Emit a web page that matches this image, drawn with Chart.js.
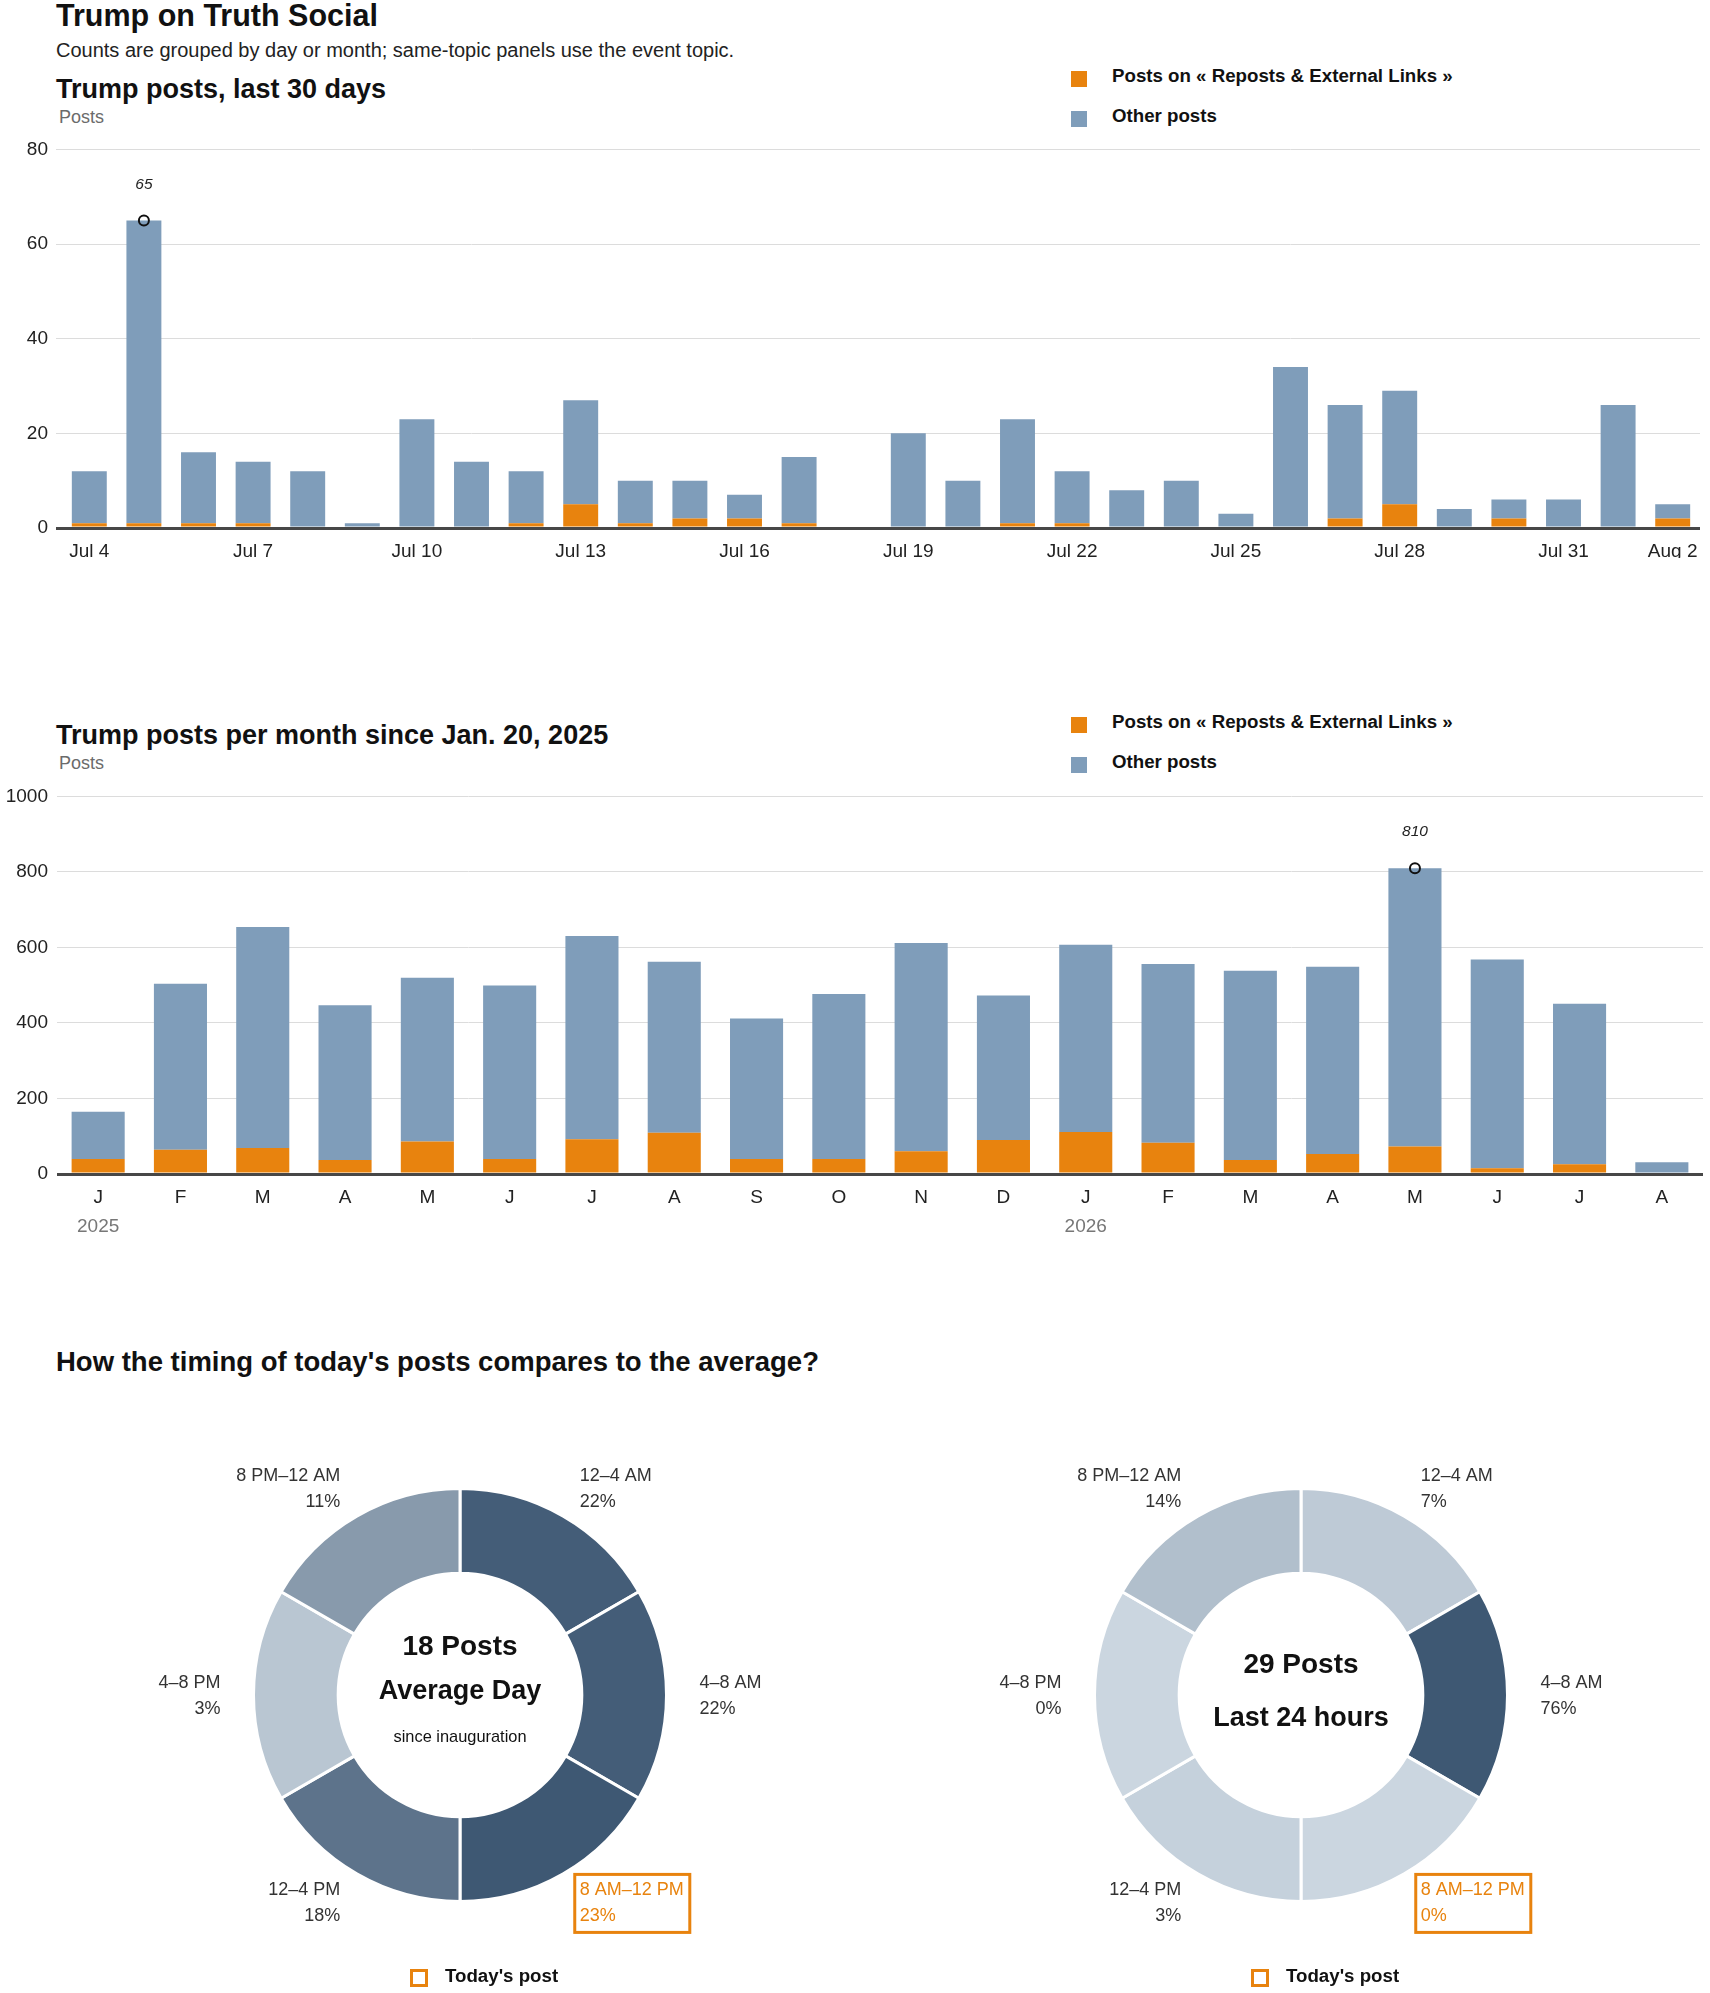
<!DOCTYPE html>
<html>
<head>
<meta charset="utf-8">
<script src="https://cdn.jsdelivr.net/npm/chart.js@4.4.1/dist/chart.umd.min.js"></script>
<style>
  html, body { margin: 0; padding: 0; background: #fff; }
  body { width: 1710px; height: 1993px; position: relative; overflow: hidden;
         font-family: 'Liberation Sans', Arial, sans-serif; color: #111; }
  .abs { position: absolute; line-height: 1; white-space: nowrap; }
  .h1 { font-size: 30.5px; font-weight: bold; }
  .h2 { font-size: 27px; font-weight: bold; }
  .sub { font-size: 20px; color: #222; }
  .axt { font-size: 18px; color: #6b6b6b; }
  .sw { position: absolute; width: 16px; height: 16px; }
  .lg { font-size: 18.7px; font-weight: bold; }
  .today { position: absolute; width: 18px; height: 18px; border: 3px solid #e8830e; box-sizing: border-box; }
  canvas { position: absolute; }
</style>
</head>
<body>
<div class="abs h1" style="left:56px;top:0px">Trump on Truth Social</div>
<div class="abs sub" style="left:56px;top:40px">Counts are grouped by day or month; same-topic panels use the event topic.</div>

<div class="abs h2" style="left:56px;top:75.5px">Trump posts, last 30 days</div>
<div class="abs axt" style="left:59px;top:108px">Posts</div>
<div class="sw" style="left:1071px;top:71px;background:#e8830e"></div>
<div class="abs lg" style="left:1112px;top:67px">Posts on « Reposts &amp; External Links »</div>
<div class="sw" style="left:1071px;top:111px;background:#7f9dba"></div>
<div class="abs lg" style="left:1112px;top:107px">Other posts</div>
<canvas id="daily" width="1710" height="430" style="left:0;top:130px"></canvas>

<div class="abs h2" style="left:56px;top:721.5px">Trump posts per month since Jan. 20, 2025</div>
<div class="abs axt" style="left:59px;top:754px">Posts</div>
<div class="sw" style="left:1071px;top:717px;background:#e8830e"></div>
<div class="abs lg" style="left:1112px;top:713px">Posts on « Reposts &amp; External Links »</div>
<div class="sw" style="left:1071px;top:757px;background:#7f9dba"></div>
<div class="abs lg" style="left:1112px;top:753px">Other posts</div>
<canvas id="monthly" width="1710" height="480" style="left:0;top:776px"></canvas>

<div class="abs h2" style="left:56px;top:1348px;font-size:27.5px">How the timing of today's posts compares to the average?</div>
<canvas id="avgDay" width="800" height="550" style="left:60px;top:1420px"></canvas>
<canvas id="lastDay" width="800" height="550" style="left:901px;top:1420px"></canvas>
<div class="today" style="left:410px;top:1969px"></div>
<div class="abs lg" style="left:445px;top:1967px">Today's post</div>
<div class="today" style="left:1251px;top:1969px"></div>
<div class="abs lg" style="left:1286px;top:1967px">Today's post</div>

<script>
// daily panel, Jul 4 - Aug 2
const days = ['Jul 4','Jul 5','Jul 6','Jul 7','Jul 8','Jul 9','Jul 10','Jul 11','Jul 12','Jul 13',
  'Jul 14','Jul 15','Jul 16','Jul 17','Jul 18','Jul 19','Jul 20','Jul 21','Jul 22','Jul 23',
  'Jul 24','Jul 25','Jul 26','Jul 27','Jul 28','Jul 29','Jul 30','Jul 31','Aug 1','Aug 2'];
const dailyReposts = [1,1,1,1,0,0,0,0,1,5,1,2,2,1,0,0,0,1,1,0,0,0,0,2,5,0,2,0,0,2];
const dailyOther = [11,64,15,13,12,1,23,14,11,22,9,8,5,14,0,20,10,22,11,8,10,3,34,24,24,4,4,6,26,3];

// monthly panel, Jan 2025 - Aug 2026
const months = ['J','F','M','A','M','J','J','A','S','O','N','D','J','F','M','A','M','J','J','A'];
const monthlyReposts = [40,64,69,37,86,40,92,109,40,40,60,90,111,83,37,53,73,15,26,0];
const monthlyOther = [125,440,585,410,434,459,538,453,372,437,552,383,496,473,501,496,737,553,425,31];
const yearStarts = [0, 12];
const yearNames = ['2025', '2026'];

// time of day panels
const timeSlots = ['12–4 AM','4–8 AM','8 AM–12 PM','12–4 PM','4–8 PM','8 PM–12 AM'];
const slotHours = [4,4,4,4,4,4];
const averageShare = [22,22,23,18,3,11];
const last24Share = [7,76,0,3,0,14];
const todaySlot = 2;

const ORANGE = '#e8830e';
const BLUE = '#7f9dba';
const LIGHT = [203, 214, 224];
const DARK = [62, 88, 115];

Chart.defaults.font.family = "'Liberation Sans', Arial, sans-serif";
Chart.defaults.color = '#222';

function barChart(id, labels, reposts, other, o) {
  const totals = reposts.map((r, i) => r + other[i]);
  const peak = totals.indexOf(Math.max(...totals));
  const marker = totals.map((t, i) => i === peak ? t : null);

  const peakLabel = {
    id: 'peakLabel',
    afterDatasetsDraw(chart) {
      const pt = chart.getDatasetMeta(2).data[peak];
      const c = chart.ctx;
      c.save();
      c.font = "italic 15.5px 'Liberation Sans Narrow', 'Liberation Sans', sans-serif";
      c.fillStyle = '#222';
      c.textAlign = 'center';
      c.textBaseline = 'middle';
      c.fillText(String(totals[peak]), pt.x, pt.y - 36);
      c.restore();
    }
  };

  const years = {
    id: 'years',
    afterDraw(chart) {
      if (!o.years) return;
      const c = chart.ctx, x = chart.scales.x;
      c.save();
      c.font = "19px 'Liberation Sans', sans-serif";
      c.fillStyle = '#777';
      c.textAlign = 'center';
      c.textBaseline = 'middle';
      yearStarts.forEach((idx, k) => {
        c.fillText(yearNames[k], x.getPixelForValue(idx), chart.chartArea.bottom + 53);
      });
      c.restore();
    }
  };

  return new Chart(document.getElementById(id), {
    type: 'bar',
    data: {
      labels: labels,
      datasets: [
        { label: 'Posts on « Reposts & External Links »', data: reposts, backgroundColor: ORANGE, order: 1 },
        { label: 'Other posts', data: other, backgroundColor: BLUE, order: 1 },
        { type: 'line', stack: 'peak', data: marker, showLine: false, order: 0,
          pointRadius: 5, pointBorderWidth: 2, pointBorderColor: '#111',
          pointBackgroundColor: 'rgba(0,0,0,0)' }
      ]
    },
    options: {
      responsive: false,
      animation: false,
      events: [],
      layout: { padding: { top: 17, right: o.padRight, bottom: o.padBottom, left: 0 } },
      datasets: { bar: { barPercentage: o.barPct, categoryPercentage: 1 } },
      plugins: { legend: { display: false }, tooltip: { enabled: false } },
      scales: {
        x: {
          stacked: true,
          grid: { display: false },
          border: { display: false },
          ticks: {
            autoSkip: false, maxRotation: 0, padding: 4,
            font: { size: 19 }, color: '#222',
            callback: o.tickCb
          },
          afterFit: s => { s.height = 30; }
        },
        y: {
          stacked: true,
          min: 0, max: o.max,
          border: { display: false },
          grid: {
            drawTicks: o.tickLen > 0,
            tickLength: o.tickLen,
            color: c => c.tick && c.tick.value === 0 ? '#474747' : '#dcdcdc',
            lineWidth: c => c.tick && c.tick.value === 0 ? 3 : 1
          },
          ticks: { stepSize: o.step, padding: o.tickPad, font: { size: 19 }, color: '#222',
                   callback: v => String(v) },
          afterFit: s => { s.width = o.yWidth; }
        }
      }
    },
    plugins: [peakLabel, years]
  });
}

barChart('daily', days, dailyReposts, dailyOther, {
  max: 80, step: 20, yWidth: 62, tickLen: 6, tickPad: 8, padRight: 10, padBottom: 2,
  barPct: 0.64,
  tickCb: function (v, i) { return (i % 3 === 0 || i === days.length - 1) ? this.getLabelForValue(v) : ''; }
});

barChart('monthly', months, monthlyReposts, monthlyOther, {
  max: 1000, step: 200, yWidth: 57, tickLen: 0, tickPad: 9, padRight: 7, padBottom: 52,
  barPct: 0.645, years: true,
  tickCb: function (v) { return this.getLabelForValue(v); }
});

function shade(share, maxShare) {
  const t = maxShare > 0 ? share / maxShare : 0;
  const ch = LIGHT.map((l, k) => Math.round(l + (DARK[k] - l) * t));
  return 'rgb(' + ch.join(',') + ')';
}

function donut(id, shares, centerLines) {
  const maxShare = Math.max(...shares);

  const labelsPlugin = {
    id: 'slotLabels',
    afterDatasetsDraw(chart) {
      const c = chart.ctx;
      const arcs = chart.getDatasetMeta(0).data;
      c.save();
      c.font = "18px 'Liberation Sans', sans-serif";
      c.textBaseline = 'middle';
      arcs.forEach((arc, i) => {
        const mid = (arc.startAngle + arc.endAngle) / 2;
        const R = arc.outerRadius + 33;
        const x = arc.x + Math.cos(mid) * R;
        const y = arc.y + Math.sin(mid) * R;
        const cos = Math.cos(mid);
        c.textAlign = cos > 0.01 ? 'left' : (cos < -0.01 ? 'right' : 'center');
        const l1 = timeSlots[i], l2 = shares[i] + '%';
        c.fillStyle = i === todaySlot ? ORANGE : '#333';
        c.fillText(l1, x, y - 12);
        c.fillText(l2, x, y + 14);
        if (i === todaySlot) {
          const w = Math.max(c.measureText(l1).width, c.measureText(l2).width);
          const left = c.textAlign === 'right' ? x - w : x;
          c.strokeStyle = ORANGE;
          c.lineWidth = 3;
          c.strokeRect(left - 5, y - 28, w + 11, 58);
        }
      });
      // centre text
      const a = arcs[0];
      c.textAlign = 'center';
      c.fillStyle = '#111';
      centerLines.forEach(l => {
        c.font = l.font;
        c.fillText(l.text, a.x, a.y + l.dy);
      });
      c.restore();
    }
  };

  return new Chart(document.getElementById(id), {
    type: 'doughnut',
    data: {
      labels: timeSlots,
      datasets: [{
        data: slotHours,
        backgroundColor: shares.map(s => shade(s, maxShare)),
        borderColor: '#fff',
        borderWidth: 3
      }]
    },
    options: {
      responsive: false,
      animation: false,
      events: [],
      cutout: '59%',
      layout: { padding: 67 },
      plugins: { legend: { display: false }, tooltip: { enabled: false } }
    },
    plugins: [labelsPlugin]
  });
}

const BOLD27 = "bold 27px 'Liberation Sans', sans-serif";
donut('avgDay', averageShare, [
  { text: '18 Posts', font: "bold 28px 'Liberation Sans', sans-serif", dy: -48 },
  { text: 'Average Day', font: BOLD27, dy: -3 },
  { text: 'since inauguration', font: "16.4px 'Liberation Sans', sans-serif", dy: 42 }
]);
donut('lastDay', last24Share, [
  { text: '29 Posts', font: "bold 28px 'Liberation Sans', sans-serif", dy: -30 },
  { text: 'Last 24 hours', font: BOLD27, dy: 24 }
]);
</script>
</body>
</html>
